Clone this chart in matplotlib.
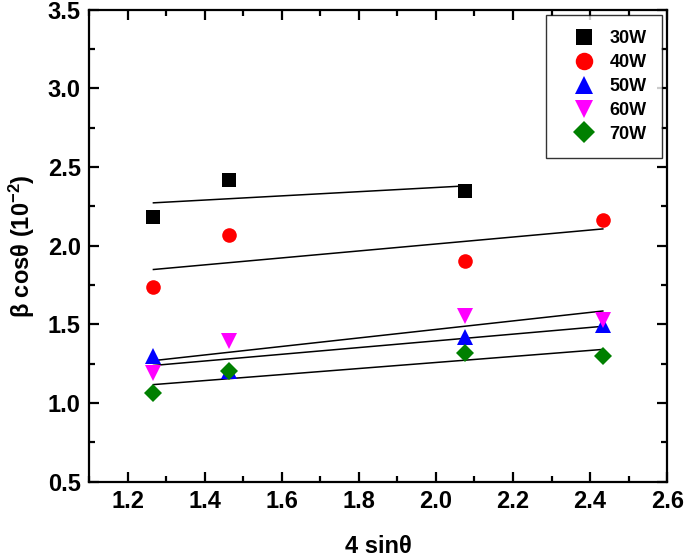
import numpy as np
import matplotlib.pyplot as plt
from matplotlib.ticker import MultipleLocator

plt.rcParams['font.family'] = ['Liberation Sans', 'DejaVu Sans']
plt.rcParams['mathtext.default'] = 'regular'

# 4 sin(theta) positions of the peaks
x_all = [1.267, 1.464, 2.076, 2.433]

# beta cos(theta) (10^-2) for each power
labels = ['30W', '40W', '50W', '60W', '70W']
y_30w = [2.18, 2.42, 2.35]
y_40w = [1.74, 2.07, 1.90, 2.165]
y_50w = [1.30, 1.205, 1.42, 1.495]
y_60w = [1.19, 1.395, 1.555, 1.527]
y_70w = [1.062, 1.205, 1.32, 1.30]

series = [y_30w, y_40w, y_50w, y_60w, y_70w]
markers = ['s', 'o', '^', 'v', 'D']
colors = ['black', 'red', 'blue', 'magenta', 'green']
sizes = [9.5, 10.5, 11, 11, 9.5]

fig = plt.figure(figsize=(6.85, 5.59), dpi=100)
ax = fig.add_axes([0.130, 0.138, 0.844, 0.845])

for ys, m, c, s, lab in zip(series, markers, colors, sizes, labels):
    xs = np.array(x_all[:len(ys)])
    ax.plot(xs, ys, linestyle='none', marker=m, color=c, markersize=s,
            markeredgewidth=0, label=lab, zorder=3)
    # linear fit over the range of the points
    k, b = np.polyfit(xs, ys, 1)
    xf = np.array([xs.min(), xs.max()])
    ax.plot(xf, k * xf + b, color='black', linewidth=1.1, zorder=2)

ax.set_xlim(1.1, 2.6)
ax.set_ylim(0.5, 3.5)
ax.xaxis.set_major_locator(MultipleLocator(0.2))
ax.xaxis.set_minor_locator(MultipleLocator(0.1))
ax.yaxis.set_major_locator(MultipleLocator(0.5))
ax.yaxis.set_minor_locator(MultipleLocator(0.25))
ax.set_xticks(np.arange(1.2, 2.61, 0.2))

ax.tick_params(which='both', direction='in', top=True, right=True, width=1.6)
ax.tick_params(which='major', length=7, labelsize=17, pad=6)
ax.tick_params(which='minor', length=4)
for lab in ax.get_xticklabels() + ax.get_yticklabels():
    lab.set_fontweight('bold')
for sp in ax.spines.values():
    sp.set_linewidth(1.6)

ax.set_xlabel('4 sinθ', fontsize=17, fontweight='bold', labelpad=16)
ax.set_ylabel('β cosθ (10$^{-2}$)', fontsize=17, fontweight='bold', labelpad=8)

leg = ax.legend(loc='upper right', frameon=True, fancybox=False,
                edgecolor='black', borderaxespad=0.3, handletextpad=0.1,
                borderpad=0.85, labelspacing=0.38, markerscale=1.2,
                handlelength=2.55, prop={'weight': 'bold', 'size': 13})
leg.get_frame().set_linewidth(1.0)

fig.savefig('out.png', dpi=100)
